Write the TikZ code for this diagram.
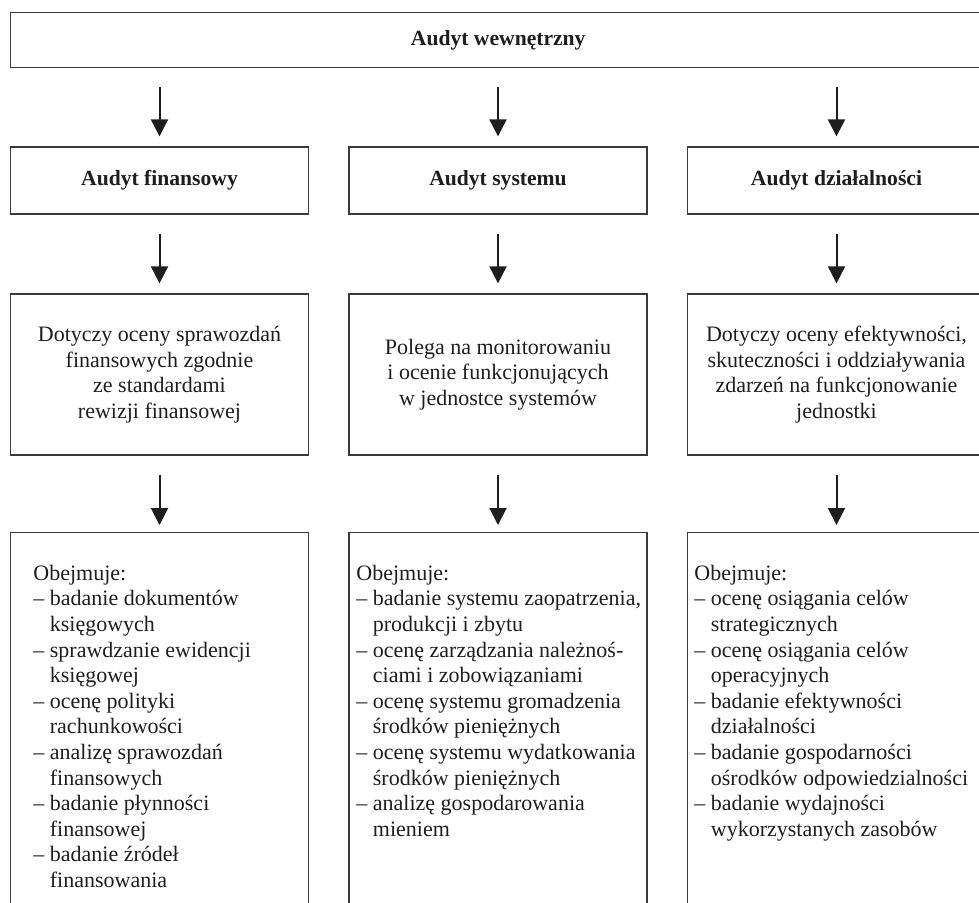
\documentclass[tikz,border=0pt]{standalone}
\usepackage{fontspec}
\setmainfont{Liberation Serif}
\usetikzlibrary{arrows.meta}
\definecolor{boxgray}{HTML}{3A3A3A}
\definecolor{inkblack}{HTML}{1E1E1E}
\begin{document}
\begin{tikzpicture}[x=0.5pt,y=-0.5pt,
  every node/.style={text=inkblack},
  frame/.style={draw=boxgray, line width=0.65pt, inner sep=0pt, align=center, font=\fontsize{11}{12.8}\selectfont},
  topbox/.style={frame, minimum width=487.5pt, minimum height=27.5pt, font=\fontsize{10.8}{12.8}\selectfont\bfseries},
  headbox/.style={frame, minimum width=149pt, minimum height=33.5pt, font=\fontsize{10.8}{12.8}\selectfont\bfseries},
  descbox/.style={frame, minimum width=149pt, minimum height=80.5pt},
  listbox/.style={frame, minimum width=149pt, minimum height=220pt, anchor=north},
  listtext/.style={inner sep=0pt, align=left, anchor=north west, font=\fontsize{11}{12.8}\selectfont},
  arr/.style={draw=inkblack, line width=1pt, -{Triangle[width=8.5pt,length=8.5pt]}, shorten <=9.5pt, shorten >=5pt}
]
\useasboundingbox (0,0) rectangle (979,902);
\clip (0,0) rectangle (979,902);

\node[topbox] (top) at (498.25,40) {Audyt wewnętrzny};

\node[headbox] (h1) at (159.5,180.5) {Audyt finansowy};
\node[headbox] (h2) at (498,180.5) {Audyt systemu};
\node[headbox] (h3) at (836.5,180.5) {Audyt działalności};

\node[descbox] (d1) at (159.5,374.5) {Dotyczy oceny sprawozdań\\finansowych zgodnie\\ze standardami\\rewizji finansowej};
\node[descbox] (d2) at (498,374.5) {Polega na monitorowaniu\\i ocenie funkcjonujących\\w jednostce systemów};
\node[descbox] (d3) at (836.5,374.5) {Dotyczy oceny efektywności,\\skuteczności i oddziaływania\\zdarzeń na funkcjonowanie\\jednostki};

\node[listbox] (l1) at (159.5,532) {};
\node[listbox] (l2) at (498,532) {};
\node[listbox] (l3) at (836.5,532) {};

\node[listtext] (t1) at (33,562) {\strut Obejmuje:\\
– badanie dokumentów\\\hphantom{–~}księgowych\\
– sprawdzanie ewidencji\\\hphantom{–~}księgowej\\
– ocenę polityki\\\hphantom{–~}rachunkowości\\
– analizę sprawozdań\\\hphantom{–~}finansowych\\
– badanie płynności\\\hphantom{–~}finansowej\\
– badanie źródeł\\\hphantom{–~}finansowania};

\node[listtext] (t2) at (356,562) {\strut Obejmuje:\\
– badanie systemu zaopatrzenia,\\\hphantom{–~}produkcji i zbytu\\
– ocenę zarządzania należnoś-\\\hphantom{–~}ciami i zobowiązaniami\\
– ocenę systemu gromadzenia\\\hphantom{–~}środków pieniężnych\\
– ocenę systemu wydatkowania\\\hphantom{–~}środków pieniężnych\\
– analizę gospodarowania\\\hphantom{–~}mieniem};

\node[listtext] (t3) at (694,562) {\strut Obejmuje:\\
– ocenę osiągania celów\\\hphantom{–~}strategicznych\\
– ocenę osiągania celów\\\hphantom{–~}operacyjnych\\
– badanie efektywności\\\hphantom{–~}działalności\\
– badanie gospodarności\\\hphantom{–~}ośrodków odpowiedzialności\\
– badanie wydajności\\\hphantom{–~}wykorzystanych zasobów};

\draw[arr] (top.south -| h1.north) -- (h1.north);
\draw[arr] (top.south -| h2.north) -- (h2.north);
\draw[arr] (top.south -| h3.north) -- (h3.north);
\draw[arr] (h1.south) -- (d1.north);
\draw[arr] (h2.south) -- (d2.north);
\draw[arr] (h3.south) -- (d3.north);
\draw[arr, shorten >=3.5pt] (d1.south) -- (l1.north);
\draw[arr, shorten >=3.5pt] (d2.south) -- (l2.north);
\draw[arr, shorten >=3.5pt] (d3.south) -- (l3.north);
\end{tikzpicture}
\end{document}
